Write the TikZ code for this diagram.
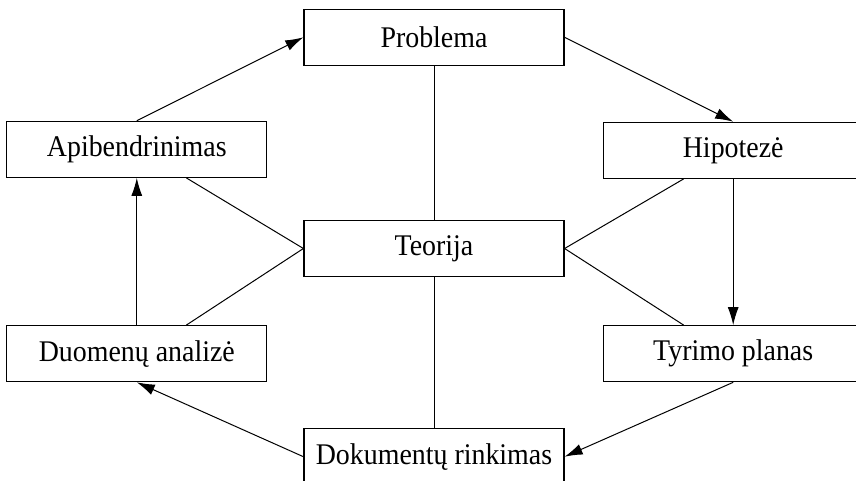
\documentclass[tikz,border=0pt]{standalone}
\usepackage{fontspec}
\setmainfont{Liberation Serif}[FakeStretch=0.93]
\usetikzlibrary{arrows.meta,positioning}

\begin{document}
\begin{tikzpicture}[>={Latex[length=18pt,width=11pt]},every node/.append style={align=center},
  stage/.style={draw, line width=1.2pt, minimum width=260pt, minimum height=56pt, inner sep=0pt, font=\fontsize{30}{36}\selectfont},
  flow/.style={->, line width=1pt},
  link/.style={line width=1pt}]
    \useasboundingbox (-434pt,-231.5pt) rectangle (422pt,248.5pt);
    \node [stage] (T) {Teorija};
    \node [stage, above=154pt of T] (P) {Problema};
    \node [stage, below=151pt of T] (D) {Dokumentų rinkimas};
    \node [stage, above left=42pt and 36pt of T] (A) {Apibendrinimas};
    \node [stage, below left=48pt and 36pt of T] (DA) {Duomenų analizė};
    \node [stage, above right=41pt and 38pt of T] (H) {Hipotezė};
    \node [stage, below right=48pt and 38pt of T] (TP) {Tyrimo planas};
    % the cycle
    \draw [flow] (A.north) -- (P.west);
    \draw [flow] (P.east) -- (H.north);
    \draw [flow] (H.south) -- (TP.north);
    \draw [flow] (TP.south) -- (D.east);
    \draw [flow] (D.west) -- (DA.south);
    \draw [flow] (DA.north) -- (A.south);
    % links to the theory
    \draw [link] (T.north) -- (P.south);
    \draw [link] (T.south) -- (D.north);
    \draw [link] (T.west) -- (A.-30);
    \draw [link] (T.west) -- (DA.30);
    \draw [link] (T.east) -- (H.-150);
    \draw [link] (T.east) -- (TP.150);
\end{tikzpicture}
\end{document}
